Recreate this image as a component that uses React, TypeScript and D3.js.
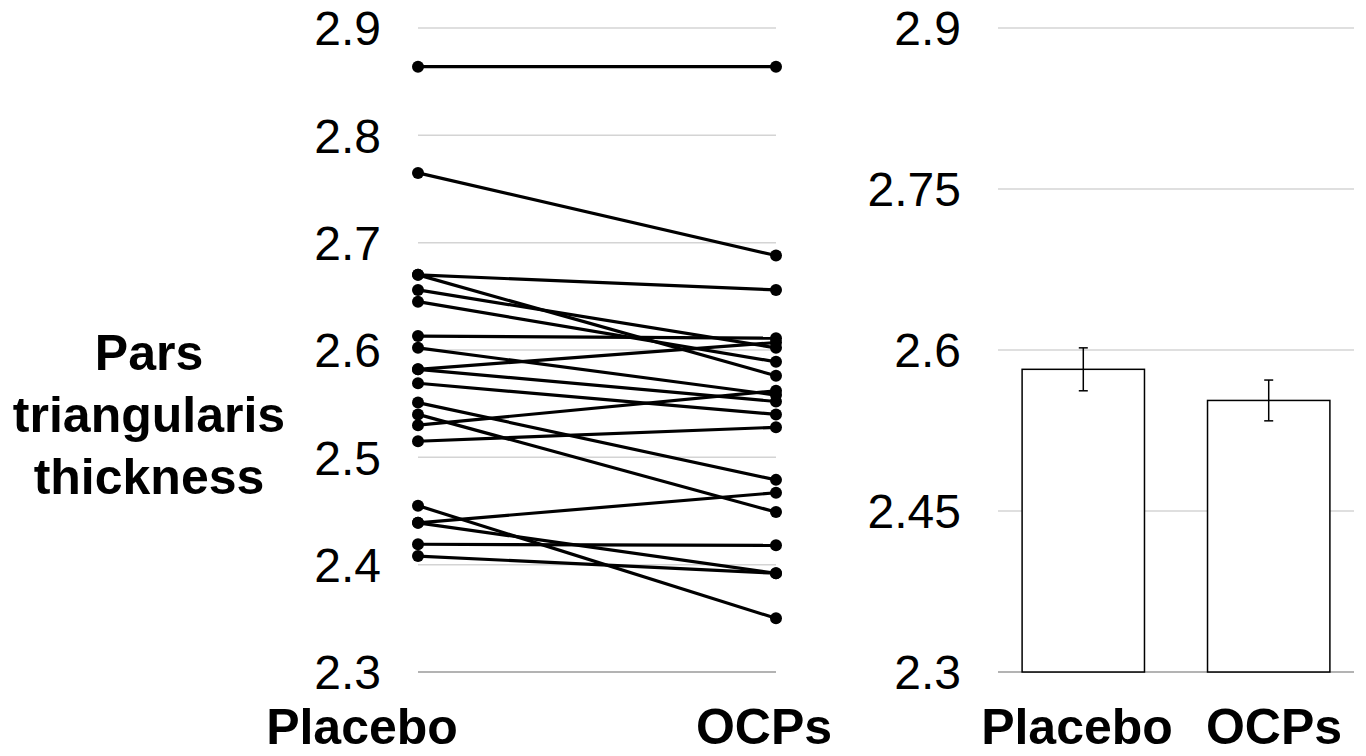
import React from "react";
import * as d3 from "d3";

const groups = ["Placebo", "OCPs"];
const placeboValues = [2.864, 2.765, 2.67, 2.67, 2.656, 2.645, 2.613, 2.602, 2.582, 2.582, 2.569, 2.551, 2.54, 2.53, 2.515, 2.455, 2.439, 2.439, 2.419, 2.408];
const ocpValues = [2.864, 2.688, 2.656, 2.576, 2.602, 2.589, 2.611, 2.558, 2.607, 2.552, 2.54, 2.479, 2.449, 2.562, 2.528, 2.35, 2.467, 2.392, 2.418, 2.392];
const barMeans = [2.582, 2.553];
const barErrors = [0.02, 0.019];
const leftTicks = [2.3, 2.4, 2.5, 2.6, 2.7, 2.8, 2.9];
const rightTicks = [2.3, 2.45, 2.6, 2.75, 2.9];
const yTitle = ["Pars", "triangularis", "thickness"];

const FONT = "'Liberation Sans', Arial, Helvetica, sans-serif";

export default function App() {
  const W = 1366, H = 756;
  const top = 28, bottom = 672;

  const yL = d3.scaleLinear().domain([2.3, 2.9]).range([bottom, top]);
  const xL = d3.scalePoint<string>().domain(groups).range([418, 776]);

  const yR = d3.scaleLinear().domain([2.3, 2.9]).range([bottom, top]);
  const xR = d3.scaleBand<string>().domain(groups).range([998, 1354]).paddingInner(0.34).paddingOuter(0.13);

  const line = d3.line<[number, number]>().x(d => d[0]).y(d => d[1]);
  const pairs = placeboValues.map((p, i) => [p, ocpValues[i]]);

  return (
    <svg width={W} height={H} style={{ position: "absolute", left: 0, top: 0, display: "block", background: "#fff" }} fontFamily={FONT}>
      {/* Left panel grid */}
      {leftTicks.map(t => (
        <g key={"lg" + t}>
          <line x1={418} x2={776} y1={yL(t)} y2={yL(t)} stroke={t === 2.3 ? "#9a9a9a" : "#d4d4d4"} strokeWidth={1.5} />
          <text x={381} y={yL(t)} dy="0.36em" textAnchor="end" fontSize={48} fill="#000">{d3.format(".1f")(t)}</text>
        </g>
      ))}
      {/* Paired lines */}
      {pairs.map((p, i) => (
        <path key={"pl" + i} d={line([[xL(groups[0])!, yL(p[0])], [xL(groups[1])!, yL(p[1])]]) || ""} stroke="#000" strokeWidth={3.2} fill="none" />
      ))}
      {pairs.map((p, i) => (
        <g key={"pd" + i}>
          <circle cx={xL(groups[0])!} cy={yL(p[0])} r={6} fill="#000" />
          <circle cx={xL(groups[1])!} cy={yL(p[1])} r={6} fill="#000" />
        </g>
      ))}
      {/* Left x labels */}
      <text x={362} y={744} textAnchor="middle" fontSize={50} fontWeight="bold">{groups[0]}</text>
      <text x={764} y={744} textAnchor="middle" fontSize={50} fontWeight="bold">{groups[1]}</text>

      {/* Y title */}
      {yTitle.map((s, i) => (
        <text key={"yt" + i} x={149} y={370 + i * 62} textAnchor="middle" fontSize={50} fontWeight="bold">{s}</text>
      ))}

      {/* Right panel grid */}
      {rightTicks.map(t => (
        <g key={"rg" + t}>
          <line x1={998} x2={1354} y1={yR(t)} y2={yR(t)} stroke={t === 2.3 ? "#9a9a9a" : "#d4d4d4"} strokeWidth={1.5} />
          <text x={961} y={yR(t)} dy="0.36em" textAnchor="end" fontSize={48} fill="#000">{d3.format("")(t)}</text>
        </g>
      ))}
      {/* Bars */}
      {groups.map((g, i) => (
        <rect key={"b" + g} x={xR(g)!} y={yR(barMeans[i])} width={xR.bandwidth()} height={yR(2.3) - yR(barMeans[i])} fill="#fff" stroke="#000" strokeWidth={1.5} />
      ))}
      {groups.map((g, i) => {
        const cx = xR(g)! + xR.bandwidth() / 2;
        const y1 = yR(barMeans[i] + barErrors[i]);
        const y2 = yR(barMeans[i] - barErrors[i]);
        return (
          <g key={"e" + g} stroke="#000" strokeWidth={1.5}>
            <line x1={cx} x2={cx} y1={y1} y2={y2} />
            <line x1={cx - 4.5} x2={cx + 4.5} y1={y1} y2={y1} />
            <line x1={cx - 4.5} x2={cx + 4.5} y1={y2} y2={y2} />
          </g>
        );
      })}
      {/* Right x labels */}
      <text x={1077} y={744} textAnchor="middle" fontSize={50} fontWeight="bold">{groups[0]}</text>
      <text x={1274} y={744} textAnchor="middle" fontSize={50} fontWeight="bold">{groups[1]}</text>
    </svg>
  );
}
